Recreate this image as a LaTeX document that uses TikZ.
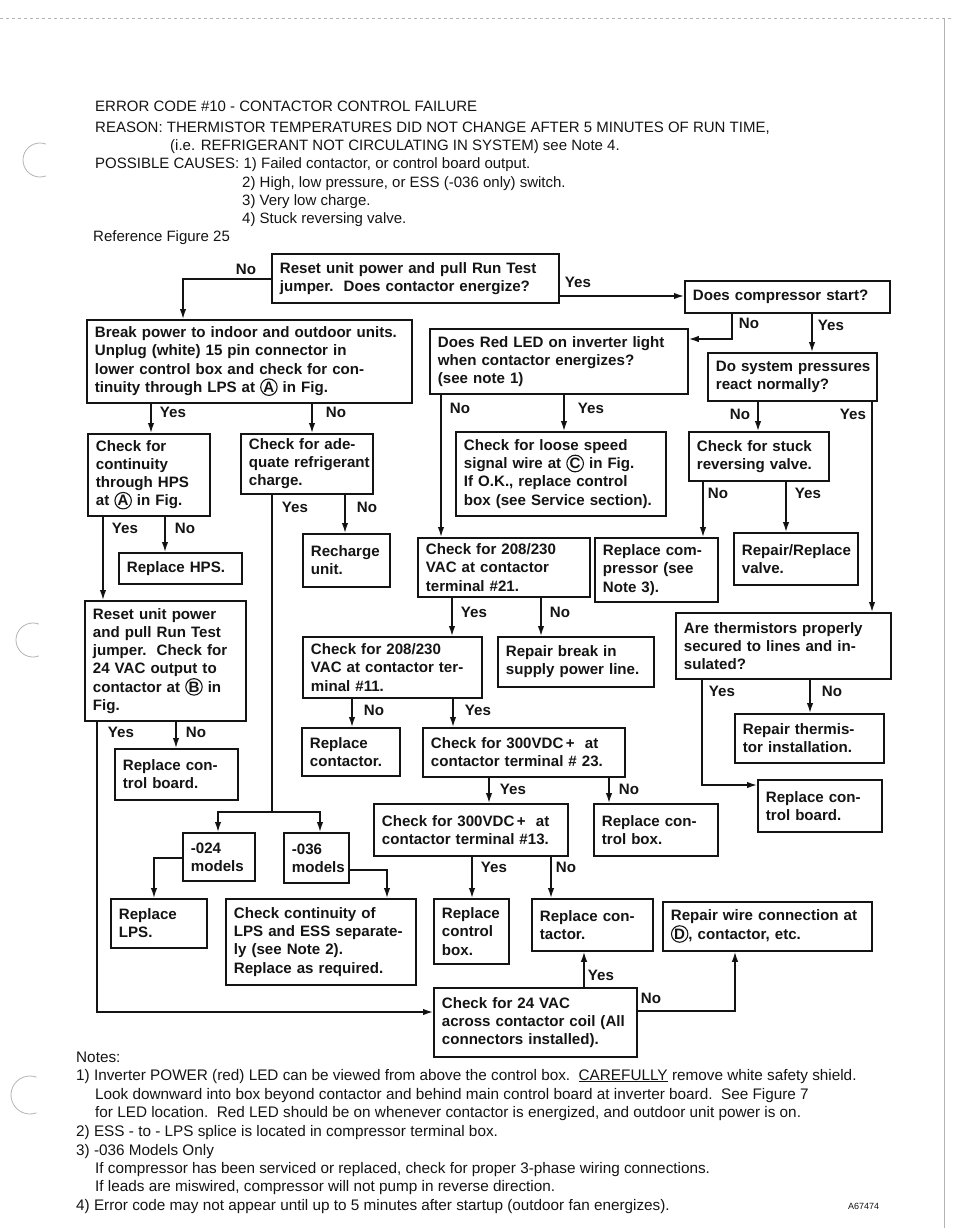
\documentclass[tikz,border=0pt]{standalone}
\usepackage{fontspec}
\setmainfont{Liberation Sans}
\usepackage{tikz}
\usetikzlibrary{arrows.meta}

\definecolor{ink}{HTML}{141414}
\definecolor{scan}{HTML}{B4B4B4}

\newcommand{\boxfont}{\fontsize{15.1}{18.2}\selectfont\bfseries}
\newcommand{\hdrfont}{\fontsize{15}{18}\selectfont}
\newcommand{\notefont}{\fontsize{15.3}{18}\selectfont}
\newcommand{\circlbl}[1]{\tikz[baseline=(cc.base)]\node[draw=ink, circle, line width=1.1pt, inner sep=0.5pt, minimum width=0pt, minimum height=0pt, text width=, anchor=center] (cc) {#1};}

\tikzset{
  box/.style={draw=ink, line width=1.8pt, anchor=north west, align=left, text=ink, font=\boxfont, inner xsep=8pt, inner ysep=2pt,
    execute at begin node={\rightskip=-16pt plus 1fil\relax}},
  sz/.style 2 args={minimum width=#1pt, minimum height=#2pt, text width=#1pt-16pt},
  flow/.style={draw=ink, line width=1.5pt, -{Latex[length=10pt,width=6.5pt]}},
  link/.style={draw=ink, line width=1.5pt},
  lbl/.style={text=ink, font=\boxfont, inner sep=0pt},
  hdr/.style={text=ink, font=\hdrfont, anchor=base west, inner sep=0pt},
  note/.style={text=ink, font=\notefont, anchor=base west, inner sep=0pt},
  scanline/.style={draw=scan, line width=0.8pt}
}

\begin{document}
\begin{tikzpicture}[x=1pt, y=-1pt]
  \useasboundingbox[fill=white] (0,0) rectangle (954,1228);

  % scan marks
  \draw[scanline, dashed] (0,18) -- (954,18);
  \draw[scanline] (944,18) -- (944,1228);
  \draw[scanline] (40,160) ++(70:17) arc (70:290:17);
  \draw[scanline] (33,640) ++(70:17) arc (70:290:17);
  \draw[scanline] (30,1095) ++(70:19) arc (70:290:19);

  % header
  \node[hdr] (h1) at (95,112) {ERROR CODE \#10 - CONTACTOR CONTROL FAILURE};
  \node[hdr] (h2) at (95,132) {REASON: THERMISTOR TEMPERATURES DID NOT CHANGE AFTER 5 MINUTES OF RUN TIME,};
  \node[hdr] (h3) at (170,150) {(i.e. REFRIGERANT NOT CIRCULATING IN SYSTEM) see Note 4.};
  \node[hdr] (h4) at (95,168) {POSSIBLE CAUSES: 1) Failed contactor, or control board output.};
  \node[hdr] (h5) at (242,187) {2) High, low pressure, or ESS (-036 only) switch.};
  \node[hdr] (h6) at (242,205) {3) Very low charge.};
  \node[hdr] (h7) at (242,223) {4) Stuck reversing valve.};
  \node[hdr] (h8) at (93,241) {Reference Figure 25};

  % boxes
  \node[box, sz={287}{49}] (reset) at (271,253) {Reset unit power and pull Run Test\\jumper.\ \ Does contactor energize?};
  \node[box, sz={205}{32}] (start) at (684,280) {Does compressor start?};
  \node[box, sz={325}{83}] (breakpw) at (86,319) {Break power to indoor and outdoor units.\\Unplug (white) 15 pin connector in\\lower control box and check for con-\\tinuity through LPS at \circlbl{A} in Fig.};
  \node[box, sz={258}{65}] (redled) at (429,328) {Does Red LED on inverter light\\when contactor energizes?\\(see note 1)};
  \node[box, sz={169}{48}] (pressure) at (707,352) {Do system pressures\\react normally?};
  \node[box, sz={122}{82}] (hps) at (87,433) {Check for\\continuity\\through HPS\\at \circlbl{A} in Fig.};
  \node[box, sz={132}{60}] (refrig) at (240,433) {Check for ade-\\quate refrigerant\\charge.};
  \node[box, sz={210}{84}] (speedwire) at (455,431) {Check for loose speed\\signal wire at \circlbl{C} in Fig.\\If O.K., replace control\\box (see Service section).};
  \node[box, sz={140}{49}] (stuckvalve) at (688,431) {Check for stuck\\reversing valve.};
  \node[box, sz={123}{31}] (replhps) at (118,552) {Replace HPS.};
  \node[box, sz={87}{53}] (recharge) at (302,533) {Recharge\\unit.};
  \node[box, sz={172}{59}] (vac21) at (417,537) {Check for 208/230\\VAC at contactor\\terminal \#21.};
  \node[box, sz={123}{64}] (replcomp) at (594,537) {Replace com-\\pressor (see\\Note 3).};
  \node[box, sz={124}{52}] (replvalve) at (733,532) {Repair/Replace\\valve.};
  \node[box, sz={215}{66}] (thermok) at (675,612) {Are thermistors properly\\secured to lines and in-\\sulated?};
  \node[box, sz={161}{120}] (resetb) at (84,600) {Reset unit power\\and pull Run Test\\jumper.\ \ Check for\\24 VAC output to\\contactor at \circlbl{B} in\\Fig.};
  \node[box, sz={179}{61}] (vac11) at (302,636) {Check for 208/230\\VAC at contactor ter-\\minal \#11.};
  \node[box, sz={156}{50}] (repbreak) at (497,636) {Repair break in\\supply power line.};
  \node[box, sz={149}{49}] (repthermis) at (734,713) {Repair thermis-\\tor installation.};
  \node[box, sz={123}{51}] (replboard) at (114,748) {Replace con-\\trol board.};
  \node[box, sz={98}{48}] (replcont) at (301,727) {Replace\\contactor.};
  \node[box, sz={202}{49}] (vdc23) at (422,727) {Check for 300VDC\,+\ \ at\\contactor terminal \# 23.};
  \node[box, sz={124}{52}] (replboard2) at (757,779) {Replace con-\\trol board.};
  \node[box, sz={194}{52}] (vdc13) at (373,803) {Check for 300VDC\,+\ \ at\\contactor terminal \#13.};
  \node[box, sz={124}{52}] (replbox) at (593,803) {Replace con-\\trol box.};
  \node[box, sz={72}{48}] (m024) at (182,832) {-024\\models};
  \node[box, sz={65}{50}] (m036) at (283,832) {-036\\models};
  \node[box, sz={96}{49}] (repllps) at (110,898) {Replace\\LPS.};
  \node[box, sz={190}{86}] (lpsess) at (225,898) {Check continuity of\\LPS and ESS separate-\\ly (see Note 2).\\Replace as required.};
  \node[box, sz={75}{65}] (replbox2) at (433,898) {Replace\\control\\box.};
  \node[box, sz={121}{52}] (replcont2) at (531,898) {Replace con-\\tactor.};
  \node[box, sz={209}{49}] (repwire) at (662,901) {Repair wire connection at\\\circlbl{D}, contactor, etc.};
  \node[box, sz={203}{69}] (coil24) at (433,987) {Check for 24 VAC\\across contactor coil (All\\connectors installed).};

  % connectors
  \draw[flow] (reset.west |- 0,279) -| (183,0 |- breakpw.north);
  \draw[flow] (reset.east |- 0,296) -- (start.west |- 0,296);
  \draw[flow] (start.south -| 732,0) |- (redled.east |- 0,339);
  \draw[flow] (start.south -| 812,0) -- (pressure.north -| 812,0);
  \draw[flow] (redled.south -| 441,0) -- (vac21.north -| 441,0);
  \draw[flow] (redled.south -| 564,0) -- (speedwire.north -| 564,0);
  \draw[flow] (pressure.south -| 758,0) -- (stuckvalve.north -| 758,0);
  \draw[flow] (pressure.south -| 872,0) -- (thermok.north -| 872,0);
  \draw[flow] (breakpw.south -| 151,0) -- (hps.north -| 151,0);
  \draw[flow] (breakpw.south -| 312,0) -- (refrig.north -| 312,0);
  \draw[flow] (hps.south -| 103,0) -- (resetb.north -| 103,0);
  \draw[flow] (hps.south -| 165,0) -- (replhps.north -| 165,0);
  \coordinate (split) at (272,812);
  \draw[link] (refrig.south -| split) -- (split);
  \draw[flow] (split) -| (m024.north -| 218,0);
  \draw[flow] (split) -| (m036.north -| 320,0);
  \draw[flow] (refrig.south -| 345,0) -- (recharge.north -| 345,0);
  \draw[flow] (stuckvalve.south -| 703,0) -- (replcomp.north -| 703,0);
  \draw[flow] (stuckvalve.south -| 786,0) -- (replvalve.north -| 786,0);
  \draw[flow] (vac21.south -| 452,0) -- (vac11.north -| 452,0);
  \draw[flow] (vac21.south -| 541,0) -- (repbreak.north -| 541,0);
  \draw[flow] (thermok.south -| 702,0) |- (replboard2.west |- 0,785);
  \draw[flow] (thermok.south -| 810,0) -- (repthermis.north -| 810,0);
  \draw[flow] (resetb.south -| 97,0) |- (coil24.west |- 0,1012);
  \draw[flow] (resetb.south -| 176,0) -- (replboard.north -| 176,0);
  \draw[flow] (vac11.south -| 352,0) -- (replcont.north -| 352,0);
  \draw[flow] (vac11.south -| 453,0) -- (vdc23.north -| 453,0);
  \draw[flow] (vdc23.south -| 489,0) -- (vdc13.north -| 489,0);
  \draw[flow] (vdc23.south -| 609,0) -- (replbox.north -| 609,0);
  \draw[flow] (vdc13.south -| 472,0) -- (replbox2.north -| 472,0);
  \draw[flow] (vdc13.south -| 551,0) -- (replcont2.north -| 551,0);
  \draw[flow] (m024.west |- 0,858) -| (154,0 |- repllps.north);
  \draw[flow] (m036.east |- 0,870) -| (387,0 |- lpsess.north);
  \draw[flow] (coil24.north -| 584,0) -- (replcont2.south -| 584,0);
  \draw[flow] (coil24.east |- 0,1011) -| (735,0 |- repwire.south);

  % yes / no
  \node[lbl] (n1) at (246,269) {No};
  \node[lbl] (y1) at (578,282) {Yes};
  \node[lbl] (n2) at (749,323) {No};
  \node[lbl] (y2) at (831,325) {Yes};
  \node[lbl] (n3) at (460,408) {No};
  \node[lbl] (y3) at (591,408) {Yes};
  \node[lbl] (n4) at (740,414) {No};
  \node[lbl] (y4) at (853,414) {Yes};
  \node[lbl] (y5) at (173,412) {Yes};
  \node[lbl] (n5) at (336,412) {No};
  \node[lbl] (y6) at (125,528) {Yes};
  \node[lbl] (n6) at (185,528) {No};
  \node[lbl] (y7) at (295,507) {Yes};
  \node[lbl] (n7) at (367,507) {No};
  \node[lbl] (n8) at (718,493) {No};
  \node[lbl] (y8) at (808,493) {Yes};
  \node[lbl] (y9) at (474,612) {Yes};
  \node[lbl] (n9) at (560,612) {No};
  \node[lbl] (y10) at (722,691) {Yes};
  \node[lbl] (n10) at (832,691) {No};
  \node[lbl] (y11) at (121,732) {Yes};
  \node[lbl] (n11) at (196,732) {No};
  \node[lbl] (n12) at (374,710) {No};
  \node[lbl] (y12) at (478,710) {Yes};
  \node[lbl] (y13) at (513,789) {Yes};
  \node[lbl] (n13) at (629,789) {No};
  \node[lbl] (y14) at (494,867) {Yes};
  \node[lbl] (n14) at (566,867) {No};
  \node[lbl] (y15) at (601,975) {Yes};
  \node[lbl] (n15) at (651,998) {No};

  % notes
  \node[note] (nt0) at (76,1062) {Notes:};
  \node[note] (nt1) at (76,1080) {1) Inverter POWER (red) LED can be viewed from above the control box.\ \ \underline{CAREFULLY} remove white safety shield.};
  \node[note] (nt2) at (95,1099) {Look downward into box beyond contactor and behind main control board at inverter board.\ \ See Figure 7};
  \node[note] (nt3) at (95,1117) {for LED location.\ \ Red LED should be on whenever contactor is energized, and outdoor unit power is on.};
  \node[note] (nt4) at (76,1136) {2) ESS - to - LPS splice is located in compressor terminal box.};
  \node[note] (nt5) at (76,1155) {3) -036 Models Only};
  \node[note] (nt6) at (95,1173) {If compressor has been serviced or replaced, check for proper 3-phase wiring connections.};
  \node[note] (nt7) at (95,1191) {If leads are miswired, compressor will not pump in reverse direction.};
  \node[note] (nt8) at (76,1210) {4) Error code may not appear until up to 5 minutes after startup (outdoor fan energizes).};
  \node[note, font=\fontsize{9}{10}\selectfont] (code) at (848,1209) {A67474};
\end{tikzpicture}
\end{document}
